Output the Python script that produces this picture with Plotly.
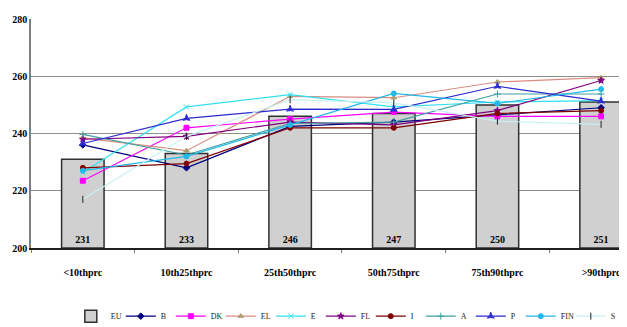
import plotly.graph_objects as go

categories = ["<10thprc", "10th25thprc", "25th50thprc", "50th75thprc", "75th90thprc", ">90thprc"]
eu_values = [231, 233, 246, 247, 250, 251]
axis_floor = 200

series_names = ["B", "DK", "EL", "E", "FL", "I", "A", "P", "FIN", "S"]
b_vals = [236, 228, 242.5, 244, 246.5, 249]
dk_vals = [223.5, 242, 245, 247.5, 246, 246]
el_vals = [238.5, 234, 253, 252.5, 258, 259.5]
e_vals = [226.5, 249.3, 253.6, 249.3, 251, 251.5]
fl_vals = [238, 239, 244, 243, 248, 258.5]
i_vals = [228, 229.5, 242, 242, 247, 248]
a_vals = [239.7, 232.5, 243.5, 244, 253.8, 253.8]
p_vals = [236.5, 245.3, 248.5, 248.4, 256.5, 251.3]
fin_vals = [227, 232, 243, 254, 250.5, 255.5]
s_vals = [217, 239, 251.8, 250.7, 244.3, 243.2]

series_values = [b_vals, dk_vals, el_vals, e_vals, fl_vals, i_vals, a_vals, p_vals, fin_vals, s_vals]
series_colors = ["#000080", "#FF00FF", "#D98C80", "#33E0F0", "#800080", "#800000",
                 "#40A0A0", "#2B2BD0", "#22B8E8", "#C8F0F0"]
marker_colors = ["#000080", "#FF00FF", "#B0A070", "#33E0F0", "#800080", "#800000",
                 "#40A0A0", "#2B2BD0", "#22B8E8", "#202020"]
series_symbols = ["diamond", "square", "triangle-up", "x-thin-open", "star", "circle",
                  "cross-thin-open", "star-triangle-up", "circle", "line-ns-open"]

font_family = "Liberation Serif"

fig = go.Figure()
fig.add_trace(go.Bar(
    x=categories, y=[v - axis_floor for v in eu_values], base=[axis_floor] * len(eu_values),
    name="EU", width=0.41,
    marker=dict(color="#D0D0D0", line=dict(color="#303030", width=1.5)),
    text=[str(v) for v in eu_values], textposition="inside",
    insidetextanchor="start", textangle=0,
    textfont=dict(family=font_family, size=10, color="#000000", weight="bold"),
))

for name, vals, col, mcol, sym in zip(series_names, series_values, series_colors,
                                        marker_colors, series_symbols):
    fig.add_trace(go.Scatter(
        x=categories, y=vals, name=name, mode="lines+markers",
        line=dict(color=col, width=1.2),
        marker=dict(color=mcol, symbol=sym, size=5, line=dict(color=mcol, width=1)),
    ))

# page body has an 8px margin, so the figure is sized to fit the 627x327 window
fig.update_layout(
    width=619, height=319,
    margin=dict(l=23, r=0, t=11, b=79, autoexpand=False),
    paper_bgcolor="white", plot_bgcolor="white",
    font=dict(family=font_family, size=10, color="#000000"),
    showlegend=True,
    legend=dict(orientation="h", xref="container", yref="container",
                x=0.99, xanchor="right", y=0.034, yanchor="middle",
                font=dict(family=font_family, size=8, color="#222222"),
                itemwidth=30, tracegroupgap=0, entrywidth=5, entrywidthmode="pixels",
                bgcolor="rgba(0,0,0,0)"),
)
fig.update_xaxes(
    type="category", range=[-0.5, 5.25], automargin=False,
    showline=True, linecolor="#202020", linewidth=1.5,
    ticks="outside", tickson="boundaries", ticklen=3, tickcolor="#808080",
    ticklabelstandoff=14,
    tickfont=dict(family=font_family, size=10, weight="bold"),
    showgrid=False,
)
fig.update_yaxes(
    range=[200, 280], tickvals=[200, 220, 240, 260, 280], automargin=False,
    showline=True, linecolor="#808080", linewidth=1.5,
    showgrid=True, gridcolor="#909090", gridwidth=1.2,
    ticks="", tickfont=dict(family=font_family, size=10, weight="bold"),
    zeroline=False,
)

fig.write_html("out.html")
